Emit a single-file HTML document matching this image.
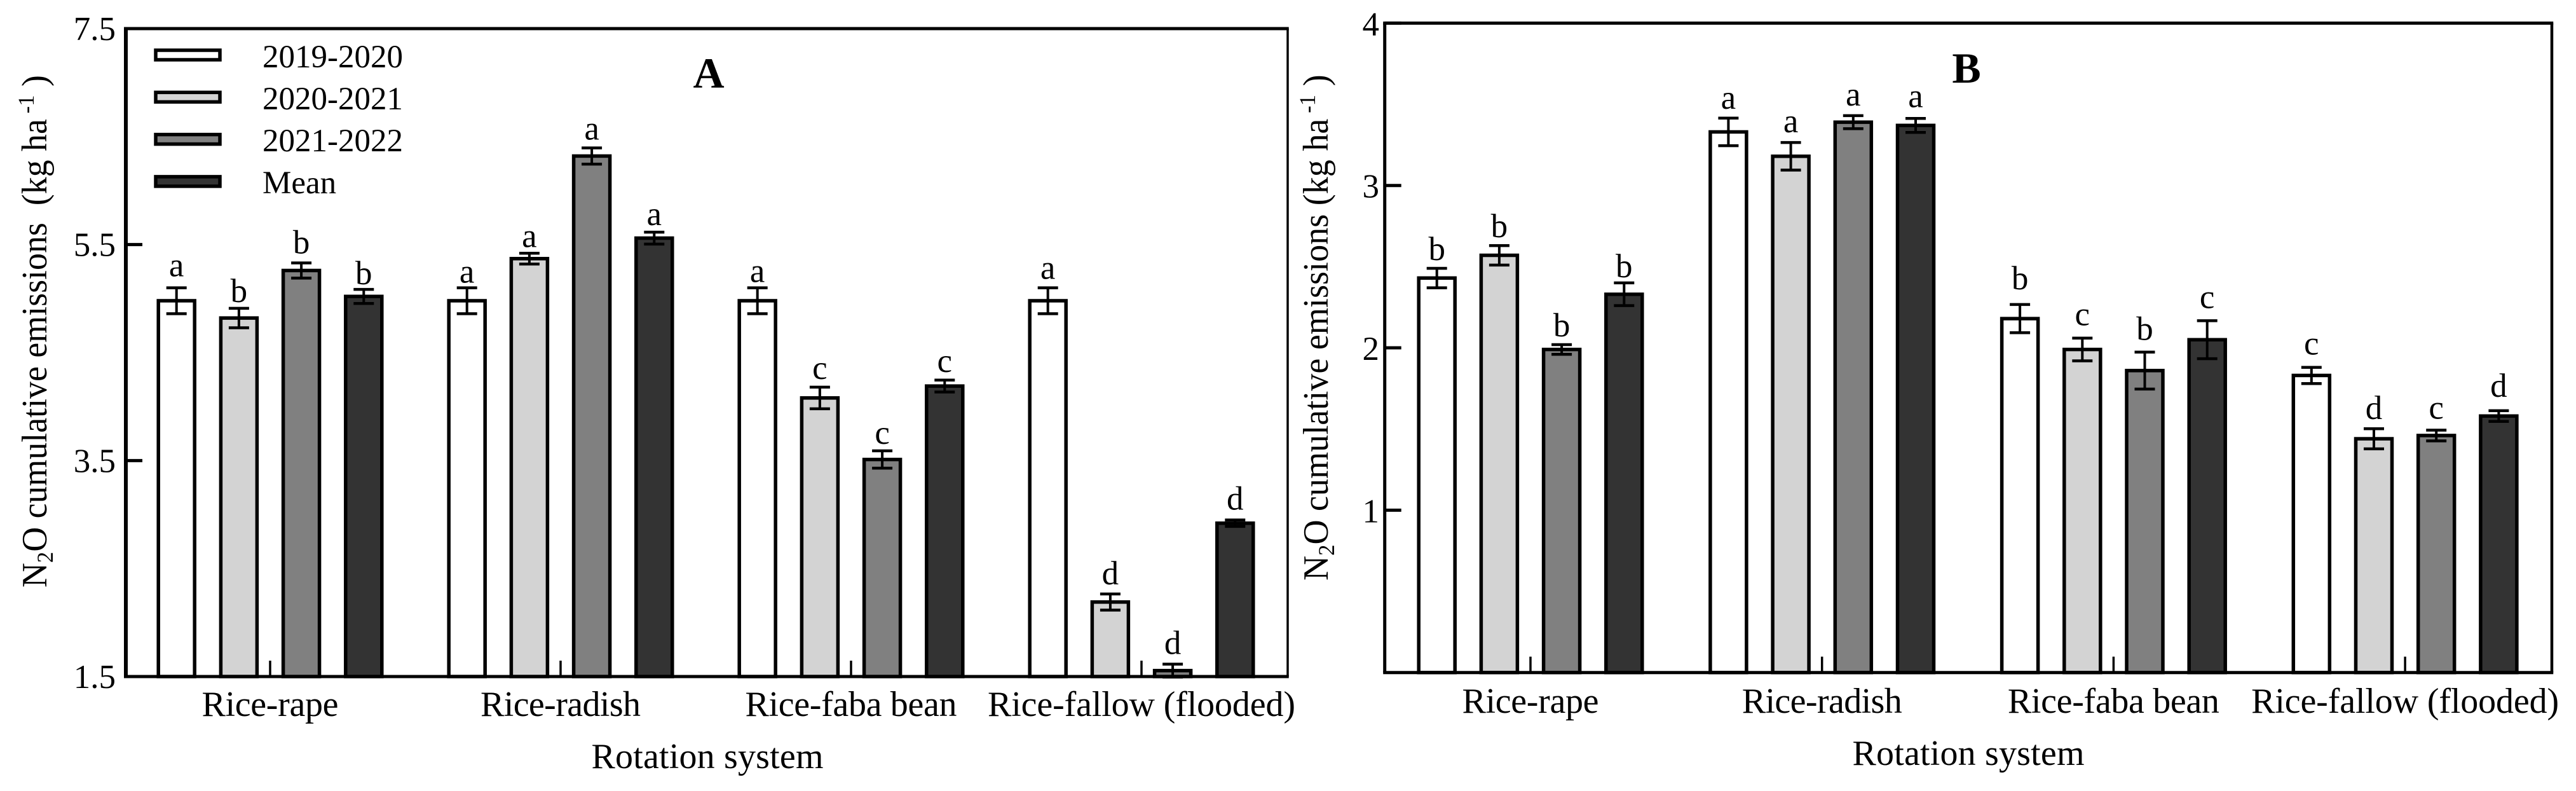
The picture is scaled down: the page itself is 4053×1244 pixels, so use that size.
<!DOCTYPE html>
<html lang="en">
<head>
<meta charset="utf-8">
<title>N2O cumulative emissions by rotation system</title>
<style>
html,body{margin:0;padding:0;background:#fff;width:4053px;height:1244px;overflow:hidden}
svg{display:block}
text{font-family:"Liberation Serif","Times New Roman",serif;fill:#000;white-space:pre}
</style>
</head>
<body>
<svg id="figure" xmlns="http://www.w3.org/2000/svg" width="4053" height="1244" viewBox="0 0 4053 1244">
  <rect x="0" y="0" width="4053" height="1244" fill="#fff"/>
  <g id="panel-a"></g>
  <g id="panel-b"></g>
  <g id="legend"></g>
  <text x="1115" y="138" font-size="68" font-weight="bold" text-anchor="middle">A</text>
  <text x="3094" y="130" font-size="68" font-weight="bold" text-anchor="middle">B</text>
  <text x="1113" y="1208" font-size="56" text-anchor="middle" textLength="365" lengthAdjust="spacing">Rotation system</text>
  <text x="3097" y="1203" font-size="56" text-anchor="middle" textLength="365" lengthAdjust="spacing">Rotation system</text>
  <text transform="translate(73 924) rotate(-90) scale(0.962 1)" font-size="56">N<tspan font-size="36" dy="10">2</tspan><tspan dy="-10">O cumulative emissions  (kg ha</tspan><tspan font-size="36" dy="-20"> -1</tspan><tspan dy="20"> )</tspan></text>
  <text transform="translate(2089 913) rotate(-90) scale(0.966 1)" font-size="56">N<tspan font-size="36" dy="10">2</tspan><tspan dy="-10">O cumulative emissions (kg ha</tspan><tspan font-size="36" dy="-20"> -1</tspan><tspan dy="20"> )</tspan></text>
</svg>
<script>
// ---- shared categories and series ----
const categories = ['Rice-rape', 'Rice-radish', 'Rice-faba bean', 'Rice-fallow (flooded)'];
const seriesNames = ['2019-2020', '2020-2021', '2021-2022', 'Mean'];

// ---- panel A values ----
const aTicks = [1.5, 3.5, 5.5, 7.5];
const aTickLabels = ['1.5', '3.5', '5.5', '7.5'];
const a2019 = [4.98, 4.98, 4.98, 4.98];
const a2020 = [4.82, 5.37, 4.08, 2.19];
const a2021 = [5.26, 6.32, 3.51, 1.555];
const aMean = [5.02, 5.56, 4.19, 2.92];
const a2019Err = [0.12, 0.12, 0.12, 0.12];
const a2020Err = [0.09, 0.05, 0.10, 0.075];
const a2021Err = [0.07, 0.075, 0.08, 0.06];
const aMeanErr = [0.065, 0.055, 0.055, 0.03];
const a2019Letters = ['a', 'a', 'a', 'a'];
const a2020Letters = ['b', 'a', 'c', 'd'];
const a2021Letters = ['b', 'a', 'c', 'd'];
const aMeanLetters = ['b', 'a', 'c', 'd'];

// ---- panel B values ----
const bTicks = [1, 2, 3, 4];
const bTickLabels = ['1', '2', '3', '4'];
const b2019 = [2.43, 3.33, 2.18, 1.83];
const b2020 = [2.57, 3.18, 1.99, 1.44];
const b2021 = [1.99, 3.39, 1.86, 1.46];
const bMean = [2.33, 3.37, 2.05, 1.58];
const b2019Err = [0.06, 0.085, 0.087, 0.05];
const b2020Err = [0.06, 0.085, 0.07, 0.062];
const b2021Err = [0.03, 0.04, 0.114, 0.033];
const bMeanErr = [0.07, 0.043, 0.117, 0.033];
const b2019Letters = ['b', 'a', 'b', 'c'];
const b2020Letters = ['b', 'a', 'c', 'd'];
const b2021Letters = ['b', 'a', 'b', 'c'];
const bMeanLetters = ['b', 'a', 'c', 'd'];

// ---- styling and layout (not data) ----
const SVG_NS = 'http://www.w3.org/2000/svg';
const seriesFills = ['#ffffff', '#d3d3d3', '#808080', '#333333'];
const BAR_PITCH = 98.2;
const BAR_WIDTH = 57;
const categoryLabelFit = [215, 252, 333, 484];

// Clearance between an error-bar cap and its significance letter (series by category).
const letterClearanceA = [[18, 8, 9, 14], [10, 10, 13, 15], [15, 13, 11, 16], [8, 11, 13, 16]];
const letterClearanceB = [[13, 15, 24, 20], [13, 16, 20, 15], [13, 16, 19, 18], [9, 18, 20, 22]];

const panelA = {
  key: 'a', rootId: 'panel-a',
  domain: [1.5, 7.5], top: 45, bottom: 1064, left: 198, right: 2026,
  leftWidth: 6, rightWidth: 3.5,
  groupStart: 425, groupStep: 457,
  tickLabelRight: 182, tickBaselineShift: 18, labelBaseline: 1126,
  ticks: aTicks, tickLabels: aTickLabels,
  values: [a2019, a2020, a2021, aMean],
  errors: [a2019Err, a2020Err, a2021Err, aMeanErr],
  letters: [a2019Letters, a2020Letters, a2021Letters, aMeanLetters],
  clearance: letterClearanceA
};
const panelB = {
  key: 'b', rootId: 'panel-b',
  domain: [0, 4], top: 36.4, bottom: 1057.7, left: 2178.7, right: 4015,
  leftWidth: 5, rightWidth: 4.5,
  groupStart: 2408, groupStep: 458.7,
  tickLabelRight: 2170, tickBaselineShift: 19, labelBaseline: 1121,
  ticks: bTicks, tickLabels: bTickLabels,
  values: [b2019, b2020, b2021, bMean],
  errors: [b2019Err, b2020Err, b2021Err, bMeanErr],
  letters: [b2019Letters, b2020Letters, b2021Letters, bMeanLetters],
  clearance: letterClearanceB
};

function svgEl(tag, attrs, parent) {
  const node = document.createElementNS(SVG_NS, tag);
  for (const k in attrs) node.setAttribute(k, attrs[k]);
  parent.appendChild(node);
  return node;
}

function drawPanel(p) {
  const root = document.getElementById(p.rootId);
  const yScale = v => p.bottom - (v - p.domain[0]) / (p.domain[1] - p.domain[0]) * (p.bottom - p.top);
  const groupX = i => p.groupStart + p.groupStep * i;
  const barX = (i, s) => groupX(i) + (s - 1.5) * BAR_PITCH;

  categories.forEach((cat, i) => {
    p.values.forEach((series, s) => {
      const cx = barX(i, s);
      const v = series[i];
      const e = p.errors[s][i];
      const yTop = yScale(v);
      const slug = p.key + '-' + i + '-' + s;

      const bar = svgEl('rect', {
        x: cx - BAR_WIDTH / 2, y: yTop, width: BAR_WIDTH, height: Math.max(0, p.bottom - yTop),
        fill: seriesFills[s], stroke: '#000', 'stroke-width': 5.5
      }, root);
      
      

      const yHi = yScale(v + e);
      const yLo = yScale(v - e);
      const stem = svgEl('line', { x1: cx, x2: cx, y1: yHi, y2: yLo, stroke: '#000', 'stroke-width': 4 }, root);
      
      
      const capHi = svgEl('line', { x1: cx - 16, x2: cx + 16, y1: yHi, y2: yHi, stroke: '#000', 'stroke-width': 4.5 }, root);
      
      
      const capLo = svgEl('line', { x1: cx - 16, x2: cx + 16, y1: yLo, y2: yLo, stroke: '#000', 'stroke-width': 4.5 }, root);
      
      

      const letter = svgEl('text', { x: cx, y: yHi - p.clearance[s][i], 'font-size': 53, 'text-anchor': 'middle' }, root);
      letter.textContent = p.letters[s][i];
      
      
    });

    const xTick = svgEl('line', { x1: groupX(i), x2: groupX(i), y1: p.bottom - 25, y2: p.bottom, stroke: '#000', 'stroke-width': 3.5 }, root);
    
    

    const xLabel = svgEl('text', {
      x: groupX(i), y: p.labelBaseline, 'font-size': 56, 'text-anchor': 'middle',
      textLength: categoryLabelFit[i], lengthAdjust: 'spacing'
    }, root);
    xLabel.textContent = cat;
    
    
  });

  p.ticks.forEach((t, i) => {
    const y = yScale(t);
    const tick = svgEl('line', { x1: p.left, x2: p.left + 26, y1: y, y2: y, stroke: '#000', 'stroke-width': 5 }, root);
    
    
    const label = svgEl('text', { x: p.tickLabelRight, y: y + p.tickBaselineShift, 'font-size': 53, 'text-anchor': 'end' }, root);
    label.textContent = p.tickLabels[i];
    
    
  });

  const spineTop = svgEl('line', { x1: p.left - p.leftWidth / 2, x2: p.right + p.rightWidth / 2, y1: p.top, y2: p.top, stroke: '#000', 'stroke-width': 5 }, root);
  
  
  const spineBottom = svgEl('line', { x1: p.left - p.leftWidth / 2, x2: p.right + p.rightWidth / 2, y1: p.bottom, y2: p.bottom, stroke: '#000', 'stroke-width': 5 }, root);
  
  
  const spineLeft = svgEl('line', { x1: p.left, x2: p.left, y1: p.top, y2: p.bottom, stroke: '#000', 'stroke-width': p.leftWidth }, root);
  
  
  const spineRight = svgEl('line', { x1: p.right, x2: p.right, y1: p.top, y2: p.bottom, stroke: '#000', 'stroke-width': p.rightWidth }, root);
  
  
}

function drawLegend() {
  const root = document.getElementById('legend');
  seriesNames.forEach((name, s) => {
    const swatch = svgEl('rect', {
      x: 245, y: 79 + s * 66.3, width: 101, height: 15,
      fill: seriesFills[s], stroke: '#000', 'stroke-width': 5.5
    }, root);
    
    
    const label = svgEl('text', { x: 413, y: 106 + s * 66, 'font-size': 51 }, root);
    label.textContent = name;
    
    
  });
}

drawPanel(panelA);
drawPanel(panelB);
drawLegend();
</script>
</body>
</html>
